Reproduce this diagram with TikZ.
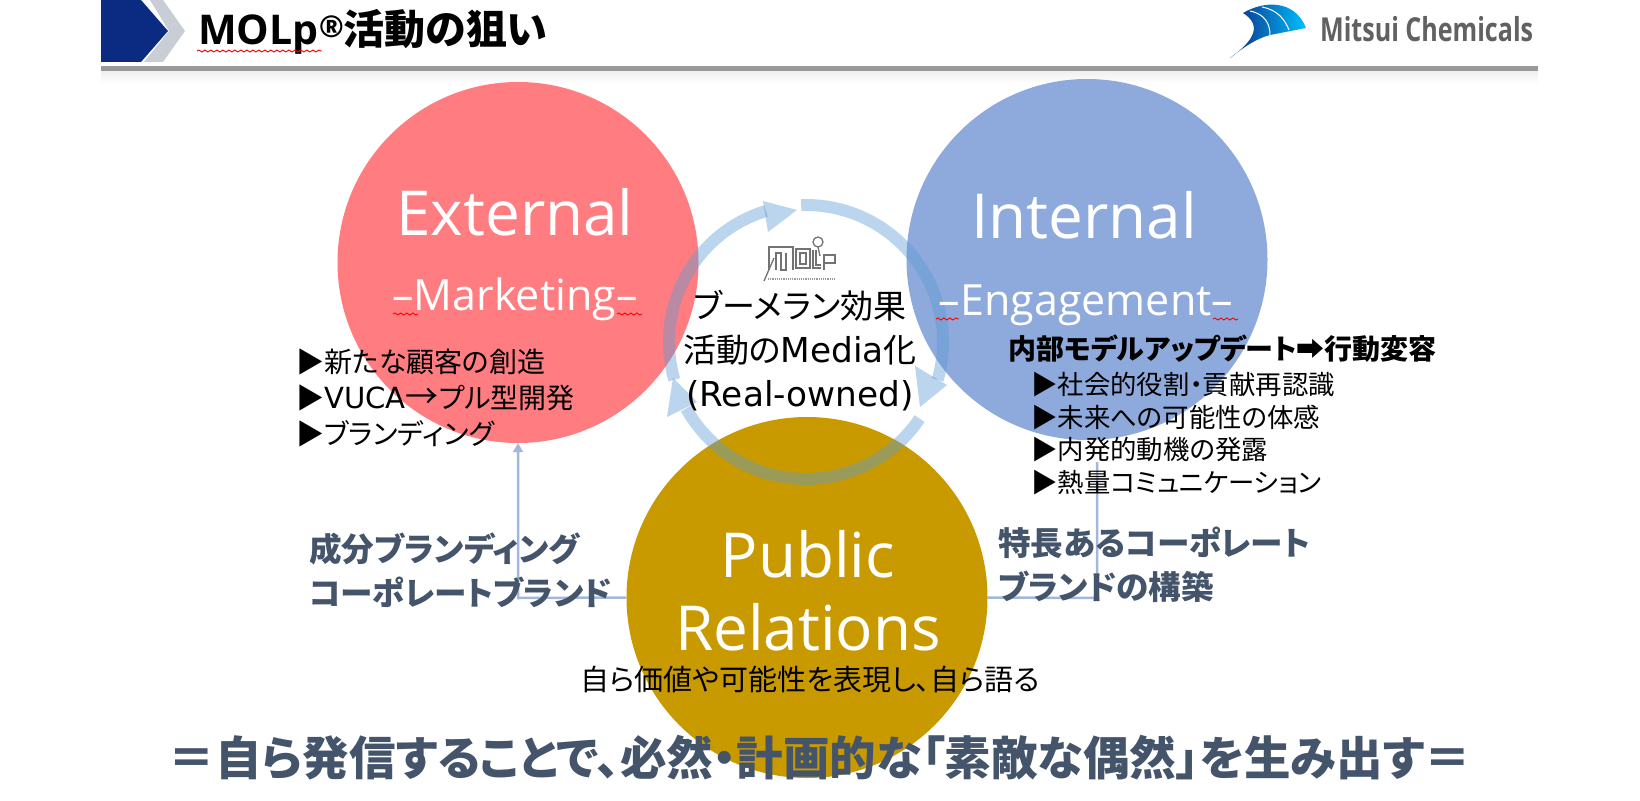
\documentclass[tikz,border=0pt]{standalone}
\usepackage{fontspec}
\setmainfont[RawFeature=+palt]{Noto Sans CJK JP}
\newfontfamily\latn{Open Sans}
\newfontfamily\latw[Scale=1.04]{DejaVu Sans}
\usetikzlibrary{arrows.meta,decorations.pathmorphing}

\definecolor{extred}{HTML}{FF7C80}
\definecolor{intblue}{HTML}{8EA9DB}
\definecolor{pubgold}{HTML}{C99A00}
\definecolor{ringblue}{HTML}{5B9BD5}
\definecolor{linkblue}{HTML}{A3B8D8}
\definecolor{slate}{HTML}{44546A}
\definecolor{navy}{HTML}{0B2A82}
\definecolor{chevgray}{HTML}{C9CED6}

\tikzset{
  bigcircle/.style={circle,minimum size=361pt,inner sep=0pt},
  bigtext/.style={text=white,font=\latn\fontsize{62}{73}\selectfont,inner sep=0pt},
  subtext/.style={text=white,font=\latn\fontsize{43}{43}\selectfont,inner sep=0pt,anchor=base},
  listtext/.style={align=left,inner sep=0pt,anchor=west},
  linktext/.style={align=left,text=slate,font=\bfseries\fontsize{32.6}{44}\selectfont,inner sep=0pt,anchor=west},
  linkline/.style={draw=linkblue,line width=2.5pt},
  ringarc/.style={draw=ringblue,line width=12pt,opacity=.42},
  ringtip/.style={fill=ringblue,opacity=.42},
  logoline/.style={draw=black!55,line width=1.3pt},
  squiggle/.style={draw=red,line width=.9pt,decorate,decoration={snake,amplitude=1pt,segment length=6pt}}
}

\begin{document}
\begin{tikzpicture}[x=1pt,y=-1pt]
  \useasboundingbox (0,0) rectangle (1640,800);
  \fill[white] (0,0) rectangle (1640,800);

  % header
  \fill[navy] (101,0) -- (141,0) -- (168,31) -- (141,62) -- (101,62) -- cycle;
  \fill[chevgray] (150,0) -- (163,0) -- (185,31) -- (163,62) -- (144,62) -- (169,31) -- cycle;
  \shade[top color=black!6,bottom color=white] (101,71) rectangle (1538,84);
  \fill[black!40] (101,66) rectangle (1538,70.5);
  \node[inner sep=0pt,anchor=west,font=\bfseries\fontsize{41}{41}\selectfont] (title) at (198,32)
    {{\latn MOLp}\raisebox{7pt}{\latn\itshape\fontsize{30}{30}\selectfont ®}活動の狙い};
  \coordinate (sqA) at (197,51);
  \coordinate (sqB) at (322,51);
  \draw[squiggle] (sqA) -- (sqB);

  % logo
  \shade[left color=navy,right color=cyan!75!blue]
    (1230,58) .. controls (1255,40) and (1262,25) .. (1243,13)
    .. controls (1265,0) and (1295,0) .. (1306,28)
    -- (1270,35) .. controls (1258,38) and (1245,46) .. cycle;
  \draw[white,line width=1pt] (1250,11) .. controls (1265,14) and (1270,24) .. (1270,35);
  \draw[white,line width=1pt] (1262,7) .. controls (1278,10) and (1285,20) .. (1289,30);
  \node[inner sep=0pt,anchor=west,text=black!62,font=\latn\bfseries\fontsize{33}{33}\selectfont,
    xscale=.76,transform shape] (brand) at (1320,29) {Mitsui Chemicals};

  % circles
  \node[bigcircle,fill=extred] (ext) at (518,262.5) {};
  \node[bigcircle,fill=intblue] (int) at (1087,259.5) {};
  \node[bigcircle,fill=pubgold] (pub) at (807,597.5) {};

  % links
  \coordinate (linkL) at (518,598);
  \coordinate (linkR) at (1097,598);
  \coordinate (linkT) at (1097,462);
  \draw[linkline,-{Triangle[length=9pt,width=10pt]}] (pub.west) -- (linkL) -- (ext.south);
  \draw[linkline] (pub.east) -- (linkR) -- (linkT);

  % ring
  \coordinate (ringc) at (806,342);
  \draw[ringarc] ([shift=(ringc)]164:137) arc[start angle=164,end angle=253,radius=137];
  \draw[ringarc] ([shift=(ringc)]268:137) arc[start angle=268,end angle=376,radius=137];
  \draw[ringarc] ([shift=(ringc)]34:137) arc[start angle=34,end angle=151,radius=137];
  \fill[ringtip] (797,210) -- (763,201) -- (768,232) -- cycle;
  \fill[ringtip] (920,407) -- (947,385) -- (915,366) -- cycle;
  \fill[ringtip] (673,378) -- (697,402) -- (667,417) -- cycle;

  % labels in circles
  \node[bigtext,anchor=base] (extT) at (515,235) {External};
  \node[subtext] (extS) at (515,310) {–Marketing–};
  \node[bigtext,anchor=base] (intT) at (1084,238) {Internal};
  \node[subtext] (intS) at (1086,315) {–Engagement–};
  \node[bigtext,align=center] (pubT) at (808,591) {Public\\Relations};
  \draw[squiggle] (393,314) -- (418,314);
  \draw[squiggle] (617,314) -- (642,314);
  \draw[squiggle] (936,319) -- (959,319);
  \draw[squiggle] (1213,319) -- (1238,319);

  % centre
  \node[align=center,inner sep=0pt,font=\fontsize{33}{44}\selectfont] (mid) at (800,351)
    {ブーメラン効果\\活動の{\latw Media}化\\{\latw (Real-owned)}};
  \draw[logoline] (769,270) -- (769,247) -- (793,247) -- (793,270) (776,270) -- (776,253) -- (781,253) -- (781,270) -- (786,270) -- (786,253);
  \draw[logoline] (796,249) rectangle (810,268) (800,253) rectangle (806,264);
  \draw[logoline] (813,250) -- (813,268) -- (821,268) (816,250) -- (816,265) -- (821,265);
  \draw[logoline] (824,255) rectangle (835,263) (824,255) -- (824,270);
  \draw[logoline] (818,242) circle[radius=5] (818,247) -- (820,256);
  \draw[logoline] (764,281) -- (774,258);
  \draw[draw=black!40,line width=1.2pt,densely dotted] (768,279) -- (836,279);

  % lists
  \node[listtext,font=\fontsize{28}{36}\selectfont] (extL) at (296,398)
    {▶新たな顧客の創造\\▶{\latw VUCA}{\fontsize{33}{36}\selectfont →}プル型開発\\▶ブランディング};
  \node[inner sep=0pt,anchor=west,font=\bfseries\fontsize{28}{28}\selectfont] (intH) at (1008,349)
    {内部モデルアップデート➡行動変容};
  \node[listtext,font=\fontsize{26.4}{32.5}\selectfont] (intL) at (1031,433.5)
    {▶社会的役割・貢献再認識\\▶未来への可能性の体感\\▶内発的動機の発露\\▶熱量コミュニケーション};

  % link labels
  \node[linktext] (linkA) at (309,570) {成分ブランディング\\コーポレートブランド};
  \node[linktext] (linkB) at (998,565) {特長あるコーポレート\\ブランドの構築};
  \node[inner sep=0pt,font=\fontsize{29}{29}\selectfont] (pubS) at (810,680) {自ら価値や可能性を表現し、自ら語る};

  % bottom line
  \node[inner sep=0pt,text=slate,font=\bfseries\fontsize{46.5}{46.5}\selectfont] (claim) at (820,758)
    {＝自ら発信することで、必然・計画的な「素敵な偶然」を生み出す＝};
\end{tikzpicture}
\end{document}
